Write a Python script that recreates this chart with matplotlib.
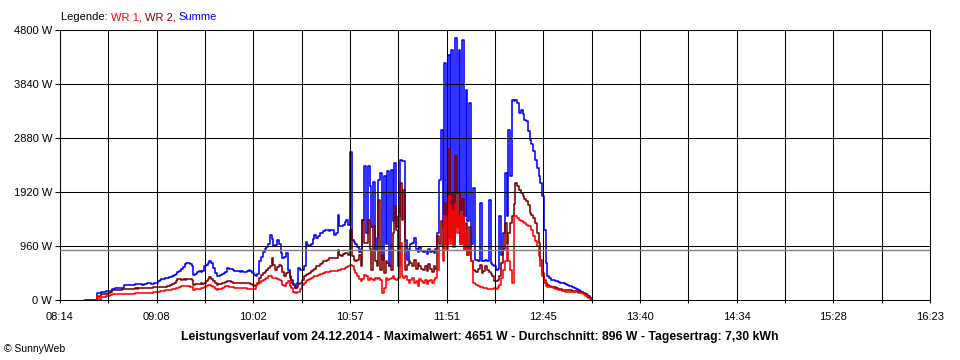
import numpy as np
import matplotlib
matplotlib.use('Agg')
import matplotlib.pyplot as plt

plt.rcParams['font.family'] = ['Liberation Sans', 'DejaVu Sans']

# Zeitachse in Minuten nach 08:14, ein Messwert pro Minute ab 08:28
t_start = 14
t_end = 489
tick_labels = ['08:14', '09:08', '10:02', '10:57', '11:51',
               '12:45', '13:40', '14:34', '15:28', '16:23']
y_ticks = [0, 960, 1920, 2880, 3840, 4800]
durchschnitt = 896
nan = np.nan

# Summe (W)
summe = [
    0, 0, 0, 0, 0, 0, 0, 120, 125, 150,
    150, 150, 155, 160, 160, 195, 200, 210, 210, 215,
    220, 215, 260, 265, 270, 270, 265, 275, 280, 280,
    285, 280, 275, 285, 290, 295, 295, 290, 290, 295,
    305, 340, 355, 365, 375, 385, 395, 405, 410, 430,
    450, 470, 490, 520, 560, 590, 640, 660, 650, 640,
    600, 440, 470, 505, 510, 505, 510, 600, 630, 660,
    700, 650, 570, 480, 430, 420, 440, 460, 480, 500,
    570, 560, 560, 540, 520, 510, 510, 505, 510, 505,
    505, 515, 540, 520, 480, 440, 420, 460, 690, 760,
    850, 900, 950, 1000, 1160, 1080, 960, 980, 1070, 1000,
    830, 750, 760, 835, 540, 420, 360, 280, 220, 300,
    570, 540, 540, 600, 1040, 980, 960, 1000, 1080, 1150,
    1100, 1130, 1190, 1200, 1220, 1240, 1250, 1230, 1250, 1240,
    1160, 1200, 1517, 1310, 1320, 1340, 1380, 1428, 1340, 2640,
    1070, 1040, 1000, 950, 860, 900, 1430, 2375, 1200, 2375,
    2020, 1300, 2100, 894, 1100, 2140, 2258, 716, 2200, 1000,
    2300, 597, 2317, 1400, 2435, 1300, 1500, 2494, 2480, 2464,
    1070, 716, 900, 1000, 1020, 1102, 900, 850, 950, 880,
    850, 880, 820, 900, 850, 870, 830, 900, 1191, 2139,
    3028, 1300, 4213, 1500, 4362, 1700, 4450, 1600, 4651, 1900,
    4450, 1600, 4628, 1500, 3739, 1400, 3502, 1000, 1991, 716,
    720, 700, 1730, 700, 690, 710, 700, 1783, 650, 620,
    600, 539, 560, 1486, 800, 1200, 2258, 1500, 3028, 2200,
    3561, 3531, 3561, 3500, 3325, 3380, 3300, 3200, 3176, 3000,
    2850, 2780, 2642, 2494, 2347, 2198, 2080, 1842, 1250, 657,
    420, 390, 361, 350, 340, 330, 320, 310, 302, 300,
    290, 270, 250, 242, 230, 210, 195, 183, 160, 140,
    124, 110, 90, 64, 40, 20,
]

# WR 2 (W)
wr2 = [
    nan, nan, nan, nan, nan, nan, 0, 60, 65, 110,
    112, 115, 112, 120, 150, 180, 183, 185, 183, 185,
    183, 190, 195, 196, 196, 200, 196, 200, 205, 200,
    205, 210, 213, 210, 213, 215, 213, 220, 225, 231,
    231, 230, 235, 240, 235, 240, 245, 250, 260, 280,
    302, 330, 373, 365, 361, 365, 361, 370, 375, 370,
    360, 272, 285, 290, 290, 295, 290, 300, 340, 380,
    402, 380, 340, 300, 272, 280, 290, 300, 310, 320,
    331, 330, 320, 310, 300, 300, 305, 300, 300, 305,
    300, 300, 295, 290, 270, 254, 260, 300, 400, 440,
    480, 500, 540, 569, 600, 747, 620, 540, 580, 627,
    597, 500, 420, 480, 500, 400, 302, 260, 213, 230,
    280, 300, 350, 420, 440, 460, 480, 508, 530, 560,
    597, 610, 640, 660, 686, 700, 720, 747, 740, 747,
    740, 747, 894, 800, 790, 820, 835, 835, 800, 1250,
    775, 716, 700, 716, 800, 597, 1428, 1013, 1013, 1428,
    900, 539, 1309, 700, 600, 1783, 539, 800, 480, 700,
    657, 600, 539, 1200, 1664, 1250, 600, 2080, 1428, 1961,
    539, 620, 700, 650, 600, 716, 560, 650, 600, 560,
    540, 600, 520, 640, 560, 500, 600, 560, 1131, 1000,
    1400, 900, 1724, 1000, 2680, 1100, 1900, 1000, 2553, 1300,
    1902, 1000, 1800, 900, 1374, 800, 1300, 700, 539, 520,
    500, 560, 620, 480, 520, 600, 540, 500, 460, 420,
    331, 340, 360, 420, 657, 900, 1369, 1000, 1200, 1369,
    1486, 1700, 2080, 2021, 1960, 1900, 1842, 1800, 1760, 1694,
    1546, 1520, 1457, 1369, 1191, 1013, 716, 480, 350, 302,
    260, 242, 240, 235, 230, 220, 200, 190, 183, 183,
    183, 180, 175, 170, 165, 160, 155, 150, 145, 140,
    130, 110, 80, 60, 40, 20,
]

# WR 1 (W)
wr1 = [
    nan, nan, nan, nan, nan, nan, 0, 46, 0, 46,
    50, 60, 70, 80, 94, 100, 100, 107, 107, 107,
    107, 110, 110, 110, 112, 110, 115, 115, 118, 120,
    120, 122, 124, 124, 122, 124, 126, 130, 135, 142,
    142, 150, 155, 160, 165, 171, 171, 175, 180, 190,
    200, 213, 220, 235, 245, 254, 250, 245, 242, 235,
    230, 183, 190, 200, 200, 205, 210, 230, 250, 265,
    272, 250, 230, 200, 183, 190, 200, 220, 235, 242,
    242, 240, 230, 225, 220, 220, 215, 210, 215, 210,
    205, 200, 196, 196, 190, 200, 260, 290, 302, 330,
    361, 380, 400, 432, 420, 391, 400, 391, 380, 360,
    331, 270, 242, 300, 331, 250, 210, 150, 124, 140,
    150, 200, 272, 300, 330, 361, 380, 400, 410, 420,
    430, 450, 460, 470, 480, 490, 500, 500, 508, 508,
    510, 520, 530, 539, 550, 560, 569, 580, 600, 627,
    600, 540, 480, 420, 380, 331, 380, 450, 420, 361,
    400, 380, 361, 400, 380, 390, 361, 124, 213, 390,
    361, 380, 400, 420, 380, 360, 400, 1013, 420, 400,
    420, 360, 300, 350, 400, 300, 330, 250, 380, 330,
    300, 350, 280, 330, 360, 300, 350, 400, 536, 953,
    953, 700, 1486, 900, 1842, 1000, 1600, 950, 1700, 1200,
    1500, 1000, 1500, 900, 1200, 800, 953, 700, 302, 280,
    260, 250, 230, 240, 220, 210, 200, 190, 200, 190,
    213, 200, 230, 270, 400, 539, 700, 953, 700, 539,
    300, 1486, 1486, 1460, 1420, 1398, 1380, 1370, 1339, 1320,
    1309, 1250, 1131, 1050, 953, 775, 600, 420, 300, 242,
    235, 230, 225, 220, 200, 190, 180, 170, 160, 153,
    150, 148, 145, 142, 140, 138, 135, 130, 125, 120,
    100, 80, 60, 40, 20, 0,
]

t = t_start + np.arange(len(summe))

fig = plt.figure(figsize=(9.6, 3.6), dpi=100)
ax = fig.add_axes([60 / 960, 60 / 360, 870 / 960, 270 / 360])

# Treppenlinien wie im SunnyWeb-Diagramm
ax.plot(t, summe, color='#0000ff', lw=1.15, drawstyle='steps-post')
ax.plot(t, wr2, color='#800000', lw=1.15, drawstyle='steps-post')
ax.plot(t, wr1, color='#ff0000', lw=1.15, drawstyle='steps-post')
ax.axhline(durchschnitt, color='#808080', lw=1.0, zorder=3)

ax.set_xlim(0, t_end)
ax.set_ylim(0, y_ticks[-1])

major = np.linspace(0, t_end, len(tick_labels))
minor = np.linspace(0, t_end, 2 * len(tick_labels) - 1)
ax.set_xticks(major)
ax.set_xticklabels(tick_labels)
ax.set_xticks(minor, minor=True)
ax.set_yticks(y_ticks)
ax.set_yticklabels([f'{v} W' for v in y_ticks])

ax.set_axisbelow(False)
ax.grid(True, which='both', axis='x', color='black', lw=0.75)
ax.grid(True, which='major', axis='y', color='black', lw=0.75)
ax.tick_params(axis='x', which='both', direction='out', length=2.5, width=0.75,
               labelsize=8, pad=6)
ax.tick_params(axis='y', direction='out', length=3.6, width=0.75,
               labelsize=8, pad=2)
for s in ax.spines.values():
    s.set_linewidth(0.75)
    s.set_color('black')

# Legende oben links, mehrfarbig
fig.canvas.draw()
renderer = fig.canvas.get_renderer()
x = 61 / 960
for txt, col in [('Legende: ', 'black'), ('WR 1, ', '#ff0000'),
                 ('WR 2, ', '#800000'), ('Summe', '#0000ff')]:
    tt = fig.text(x, 1 - 17 / 360, txt, color=col, fontsize=8, va='center', ha='left')
    bb = tt.get_window_extent(renderer)
    x += bb.width / fig.bbox.width

fig.text(480 / 960, 1 - 337 / 360,
         'Leistungsverlauf vom 24.12.2014 - Maximalwert: 4651 W - '
         'Durchschnitt: 896 W - Tagesertrag: 7,30 kWh',
         fontsize=8.8, fontweight='bold', ha='center', va='center')
fig.text(4 / 960, 1 - 349 / 360, '© SunnyWeb', fontsize=7.5, ha='left', va='center')

fig.savefig('out.png', dpi=100)
